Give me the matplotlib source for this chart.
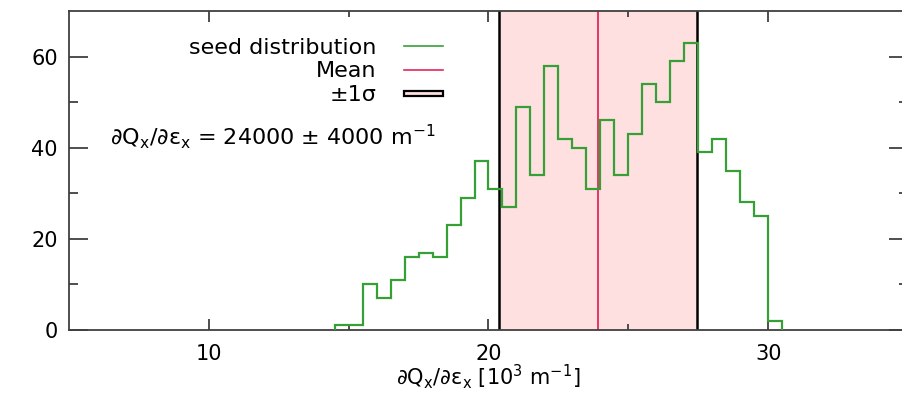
import numpy as np
import matplotlib
matplotlib.use('Agg')
import matplotlib.pyplot as plt
from matplotlib.lines import Line2D
from matplotlib.patches import Patch, Rectangle
from matplotlib.legend_handler import HandlerPatch

# histogram of the seed distribution (bin edges in 10^3 m^-1, counts)
bin_edges = [14.5, 15.0, 15.5, 16.0, 16.5, 17.0, 17.5, 18.0, 18.5, 19.0, 19.5,
             20.0, 20.5, 21.0, 21.5, 22.0, 22.5, 23.0, 23.5, 24.0, 24.5, 25.0,
             25.5, 26.0, 26.5, 27.0, 27.5, 28.0, 28.5, 29.0, 29.5, 30.0, 30.5]
counts = [1, 1, 10, 7, 11, 16, 17, 16, 23, 29, 37,
          31, 27, 49, 34, 58, 42, 40, 31, 46, 34, 43,
          54, 50, 59, 63, 39, 42, 35, 28, 25, 2]

mean = 23.9
sigma_lo = 20.38
sigma_hi = 27.47

x_ticks = [10, 20, 30]
y_ticks = [0, 20, 40, 60]

plt.rcParams['font.family'] = ['DejaVu Sans']
plt.rcParams['mathtext.default'] = 'regular'
plt.rcParams['font.size'] = 15

green = '#36a036'
red = '#e3285a'
pink = '#ffe0e0'
dark = '#404040'

fig = plt.figure(figsize=(9.02, 3.93), dpi=100)
ax = fig.add_axes([69/902, 1 - 330/393, (908 - 69)/902, (330 - 11)/393])

ax.axvspan(sigma_lo, sigma_hi, color=pink, lw=0, zorder=0)
ax.axvline(sigma_lo, color='black', lw=1.8, zorder=1)
ax.axvline(sigma_hi, color='black', lw=1.8, zorder=1)
ax.axvline(mean, color=red, lw=1.3, zorder=2)
ax.stairs(counts, bin_edges, color=green, lw=1.6, zorder=3)

ax.set_xlim(5, 35)
ax.set_ylim(0, 70)
ax.set_xticks(x_ticks)
ax.set_xticks([15, 25], minor=True)
ax.set_yticks(y_ticks)
ax.set_yticks([10, 30, 50], minor=True)
ax.tick_params(axis='both', which='both', direction='in', top=True, right=True,
               color=dark, width=1.3, labelsize=15)
ax.tick_params(axis='x', which='major', length=8, pad=10)
ax.tick_params(axis='x', which='minor', length=4)
ax.tick_params(axis='y', which='major', length=13.5, pad=8)
ax.tick_params(axis='y', which='minor', length=6.5)
for s in ax.spines.values():
    s.set_color(dark)
    s.set_linewidth(1.3)

ax.set_xlabel(r'$\partial$Q$_x$/$\partial$ε$_x$ [10$^3$ m$^{-1}$]', fontsize=15, labelpad=-1)


def thin_box(legend, orig_handle, xdescent, ydescent, width, height, fontsize):
    return Rectangle((-xdescent, -ydescent + height * 0.3), width, height * 0.35)


handles = [Line2D([], [], color=green, lw=1.2),
           Line2D([], [], color=red, lw=1.2),
           Patch(facecolor=pink, edgecolor='black', lw=1.6)]
labels = ['seed distribution', 'Mean', '±1σ']
ax.legend(handles, labels, markerfirst=False, frameon=False, fontsize=16,
          loc='upper right', bbox_to_anchor=(443/902, 1 - 38/393),
          bbox_transform=fig.transFigure, handlelength=1.75, handletextpad=1.25,
          labelspacing=0.15, borderpad=0, borderaxespad=0,
          handler_map={Patch: HandlerPatch(patch_func=thin_box)})

ax.text(110/902, 1 - 137/393,
        r'$\partial$Q$_x$/$\partial$ε$_x$ = 24000 ± 4000 m$^{-1}$',
        transform=fig.transFigure, fontsize=16, va='center', ha='left')

fig.savefig('out.png', dpi=100)
